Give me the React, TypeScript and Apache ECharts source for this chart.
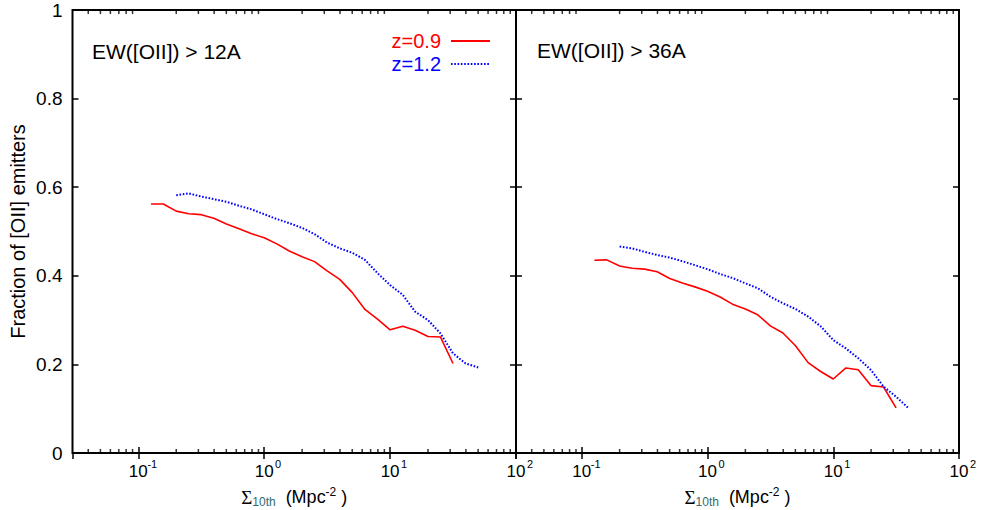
import React, { useEffect, useRef } from 'react';
import * as echarts from 'echarts';

// Sigma_10th bin centres (Mpc^-2)
const binsRed = [0.126, 0.158, 0.2, 0.251, 0.316, 0.398, 0.501, 0.631, 0.794, 1, 1.26, 1.58, 2, 2.51, 3.16, 3.98, 5.01, 6.31, 7.94, 10, 12.6, 15.8, 20, 25.1, 31.6];
const binsBlueLeft = [0.2, 0.251, 0.316, 0.398, 0.501, 0.631, 0.794, 1, 1.26, 1.58, 2, 2.51, 3.16, 3.98, 5.01, 6.31, 7.94, 10, 12.6, 15.8, 20, 25.1, 31.6, 39.8, 50.1];
const binsBlueRight = [0.2, 0.251, 0.316, 0.398, 0.501, 0.631, 0.794, 1, 1.26, 1.58, 2, 2.51, 3.16, 3.98, 5.01, 6.31, 7.94, 10, 12.6, 15.8, 20, 25.1, 31.6, 39.8];

// Fractions, EW > 12A (left panel)
const redLeft = [0.562, 0.562, 0.546, 0.540, 0.538, 0.530, 0.517, 0.506, 0.495, 0.486, 0.472, 0.456, 0.443, 0.432, 0.411, 0.392, 0.362, 0.324, 0.302, 0.278, 0.286, 0.277, 0.263, 0.262, 0.202];
const blueLeft = [0.582, 0.586, 0.579, 0.573, 0.567, 0.558, 0.550, 0.539, 0.528, 0.519, 0.508, 0.494, 0.475, 0.462, 0.452, 0.436, 0.406, 0.379, 0.357, 0.319, 0.300, 0.270, 0.225, 0.202, 0.193];
// Fractions, EW > 36A (right panel)
const redRight = [0.435, 0.436, 0.422, 0.417, 0.415, 0.409, 0.394, 0.384, 0.375, 0.365, 0.352, 0.336, 0.325, 0.312, 0.287, 0.271, 0.242, 0.204, 0.184, 0.167, 0.192, 0.188, 0.152, 0.149, 0.102];
const blueRight = [0.466, 0.462, 0.454, 0.447, 0.441, 0.433, 0.424, 0.415, 0.404, 0.395, 0.383, 0.372, 0.353, 0.338, 0.325, 0.308, 0.286, 0.255, 0.236, 0.214, 0.187, 0.150, 0.127, 0.101];

const panelTitles = ['EW([OII]) > 12A', 'EW([OII]) > 36A'];
const seriesNames = ['z=0.9', 'z=1.2'];
const minorTickValues = [0.04, 0.05, 0.06, 0.07, 0.08, 0.09, 0.2, 0.3, 0.4, 0.5, 0.6, 0.7, 0.8, 0.9, 2, 3, 4, 5, 6, 7, 8, 9, 20, 30, 40, 50, 60, 70, 80, 90];
const yTicks = { min: 0, max: 1, interval: 0.2 };
const xRange = { min: 0.03, max: 100 };

const FONT = 'Liberation Sans, Arial, Helvetica, sans-serif';
const RED = '#ff0000';
const BLUE = '#0000ff';

const zip = (xs: number[], ys: number[]) => xs.map((x, i) => [x, ys[i]]);

export default function App() {
  const ref = useRef<HTMLDivElement>(null);
  useEffect(() => {
    const chart = echarts.init(ref.current!, null, { renderer: 'svg' });

    const xLabelFormatter = (v: number) => {
      const l = Math.log10(v);
      const e = Math.round(l);
      if (Math.abs(l - e) > 0.01) return '';
      return `{p| }{b|10}{s|${e}}`;
    };
    const xLabelRich = {
      p: { width: 9 },
      b: { fontSize: 17, lineHeight: 22, verticalAlign: 'bottom', fontFamily: FONT, color: '#000' },
      s: { fontSize: 11, lineHeight: 11, verticalAlign: 'top', width: 9, align: 'left', fontFamily: FONT, color: '#000' },
    };
    const xNameRich = {
      sig: { fontSize: 19, lineHeight: 22, verticalAlign: 'middle', fontFamily: 'Liberation Serif, DejaVu Serif, serif', color: '#000' },
      sub: { fontSize: 12, lineHeight: 14, verticalAlign: 'bottom', fontFamily: FONT, color: '#336b6b' },
      n: { fontSize: 18, lineHeight: 22, verticalAlign: 'middle', fontFamily: FONT, color: '#000' },
      sup: { fontSize: 12, lineHeight: 14, verticalAlign: 'top', fontFamily: FONT, color: '#000' },
    };

    const bottomX = (gi: number) => ({
      type: 'log',
      gridIndex: gi,
      position: 'bottom',
      min: xRange.min,
      max: xRange.max,
      axisLine: { show: false },
      axisTick: { inside: true, length: 6, lineStyle: { color: '#000', width: 1.5 } },
      axisLabel: { formatter: xLabelFormatter, rich: xLabelRich, margin: 5, showMinLabel: false },
      splitLine: { show: false },
      minorTick: { show: false },
      name: '{sig|Σ}{sub|10th}{n|  (Mpc}{sup|-2}{n| )}',
      nameLocation: 'middle',
      nameGap: 33,
      nameTextStyle: { rich: xNameRich },
    });
    const topX = (gi: number) => ({
      type: 'log',
      gridIndex: gi,
      position: 'top',
      min: xRange.min,
      max: xRange.max,
      axisLine: { show: false },
      axisTick: { inside: true, length: 6, lineStyle: { color: '#000', width: 1.5 } },
      axisLabel: { show: false },
      splitLine: { show: false },
    });
    const yAx = (gi: number, pos: 'left' | 'right', labels: boolean) => ({
      type: 'value',
      gridIndex: gi,
      position: pos,
      min: yTicks.min,
      max: yTicks.max,
      interval: yTicks.interval,
      axisLine: { show: false },
      axisTick: { inside: true, length: 6, lineStyle: { color: '#000', width: 1.5 } },
      axisLabel: { show: labels, fontSize: 19, fontFamily: FONT, color: '#000', margin: 10 },
      splitLine: { show: false },
      ...(labels
        ? {
            name: 'Fraction of [OII] emitters',
            nameLocation: 'middle',
            nameGap: 45,
            nameTextStyle: { fontSize: 20, fontFamily: FONT, color: '#000' },
          }
        : {}),
    });

    const minorSeries = (gi: number, top: boolean) => ({
      type: 'scatter',
      xAxisIndex: gi,
      yAxisIndex: gi * 2,
      silent: true,
      clip: false,
      symbol: 'rect',
      symbolSize: [1.5, 4],
      symbolOffset: [0, top ? 2 : -2],
      itemStyle: { color: '#000' },
      data: minorTickValues.map((v) => [v, top ? yTicks.max : yTicks.min]),
      z: 5,
    });

    const line = (name: string, gi: number, xs: number[], ys: number[], color: string, dotted: boolean) => ({
      type: 'line',
      name,
      xAxisIndex: gi,
      yAxisIndex: gi * 2,
      data: zip(xs, ys),
      symbol: 'none',
      lineStyle: dotted ? { color, width: 2, type: [1.6, 1.7] } : { color, width: 1.6 },
      itemStyle: { color },
      z: 3,
    });

    const gridBase = {
      top: 10,
      height: 443,
      show: true,
      borderColor: '#000',
      borderWidth: 2,
      backgroundColor: 'transparent',
      containLabel: false,
      outerBoundsMode: 'none',
    };

    chart.setOption({
      animation: false,
      backgroundColor: '#fff',
      grid: [
        { ...gridBase, left: 72.5, width: 443.5 },
        { ...gridBase, left: 516, width: 443 },
      ],
      xAxis: [bottomX(0), bottomX(1), topX(0), topX(1)],
      yAxis: [yAx(0, 'left', true), yAx(0, 'right', false), yAx(1, 'left', false), yAx(1, 'right', false)],
      legend: {
        orient: 'vertical',
        align: 'right',
        right: 492,
        top: 31,
        padding: 0,
        itemWidth: 39,
        itemHeight: 12,
        itemGap: 3,
        itemStyle: { opacity: 0 },
        textStyle: { fontSize: 20, fontFamily: FONT, padding: [0, 5, 0, 0] },
        data: [
          { name: seriesNames[0], textStyle: { color: RED } },
          { name: seriesNames[1], textStyle: { color: BLUE } },
        ],
      },
      graphic: [
        { type: 'text', left: 92, top: 41, style: { text: panelTitles[0], fontSize: 21, fontFamily: FONT, fill: '#000' } },
        { type: 'text', left: 537, top: 40, style: { text: panelTitles[1], fontSize: 21, fontFamily: FONT, fill: '#000' } },
      ],
      series: [
        line(seriesNames[0], 0, binsRed, redLeft, RED, false),
        line(seriesNames[1], 0, binsBlueLeft, blueLeft, BLUE, true),
        line(seriesNames[0], 1, binsRed, redRight, RED, false),
        line(seriesNames[1], 1, binsBlueRight, blueRight, BLUE, true),
        minorSeries(0, false),
        minorSeries(0, true),
        minorSeries(1, false),
        minorSeries(1, true),
      ],
    });
    return () => chart.dispose();
  }, []);
  return (
    <div
      ref={ref}
      style={{ position: 'absolute', left: 0, top: 0, width: 983, height: 510, background: '#fff' }}
    />
  );
}
